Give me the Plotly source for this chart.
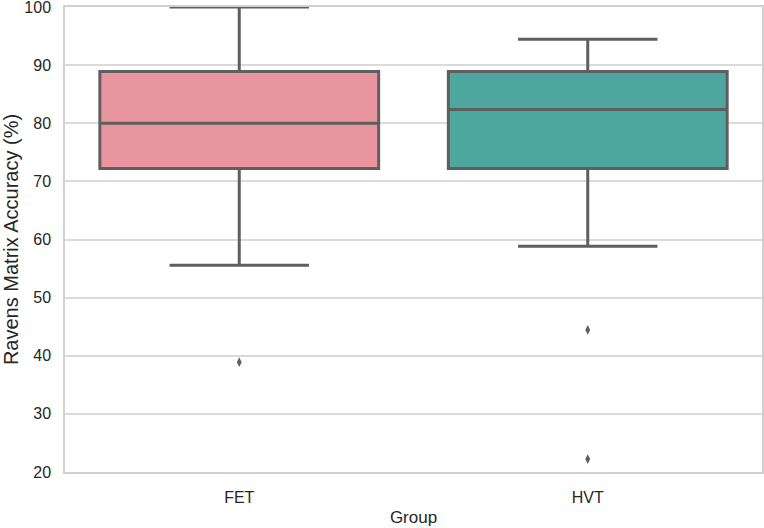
import plotly.graph_objects as go

groups = ["FET", "HVT"]
q1 = [72.22, 72.22]
median = [80.0, 82.35]
q3 = [88.89, 88.89]
lower_whisker = [55.56, 58.82]
upper_whisker = [100.0, 94.44]
outlier_groups = ["FET", "HVT", "HVT"]
outlier_values = [38.89, 44.44, 22.22]
fill_colors = ["#E8959F", "#4DA79F"]

line_col = "#5f5f5f"
fig = go.Figure()
for i, g in enumerate(groups):
    fig.add_trace(go.Box(
        x=[g], q1=[q1[i]], median=[median[i]], q3=[q3[i]],
        lowerfence=[lower_whisker[i]], upperfence=[upper_whisker[i]],
        fillcolor=fill_colors[i], line=dict(color=line_col, width=3),
        width=0.8, whiskerwidth=0.5, showlegend=False, hoverinfo="skip",
    ))
fig.add_trace(go.Scatter(
    x=outlier_groups, y=outlier_values, mode="markers",
    marker=dict(symbol="diamond-tall", size=7, color=line_col),
    showlegend=False, hoverinfo="skip",
))

font_col = "#262626"
fig.update_layout(
    width=764, height=528,
    margin=dict(l=65, r=2, t=7, b=56),
    paper_bgcolor="white", plot_bgcolor="white",
    font=dict(family="Liberation Sans, Arial, sans-serif", size=16, color=font_col),
    xaxis=dict(
        type="category", categoryorder="array", categoryarray=groups,
        range=[-0.5, 1.5], showgrid=False, showline=True, mirror=True,
        linecolor="#d0d0d0", linewidth=1.5, zeroline=False, automargin=False,
        title=dict(text="Group", font=dict(size=17), standoff=6),
        tickfont=dict(size=16), ticks="", ticklabelstandoff=10,
    ),
    yaxis=dict(
        range=[20, 100], tickvals=[20, 30, 40, 50, 60, 70, 80, 90, 100],
        showgrid=True, gridcolor="#dadada", gridwidth=1.5,
        showline=True, mirror=True, linecolor="#d0d0d0", linewidth=1.5,
        zeroline=False, ticks="", ticklabelstandoff=9, automargin=False,
        ticklabeloverflow="allow",
        title=dict(text="Ravens Matrix Accuracy (%)", font=dict(size=20), standoff=10),
        tickfont=dict(size=16),
    ),
)
fig.write_html("out.html", config={"displayModeBar": False},
               post_script="document.body.style.margin='0px';")
